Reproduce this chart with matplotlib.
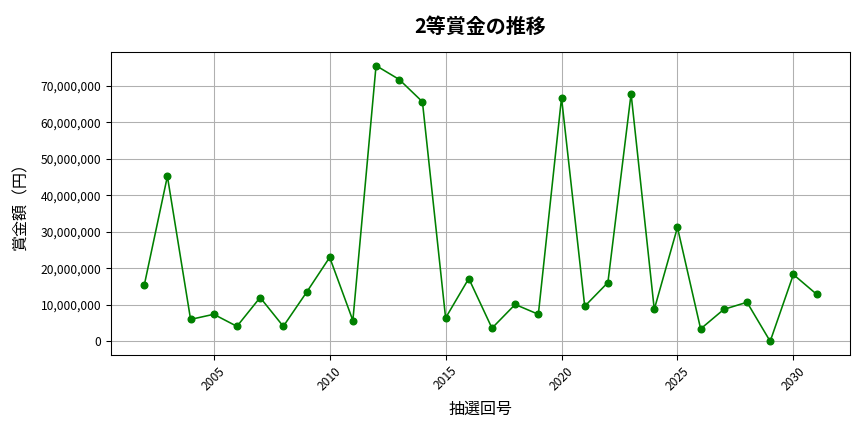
import matplotlib.pyplot as plt
import matplotlib.ticker as ticker

plt.rcParams['font.family'] = ['Noto Sans CJK JP', 'DejaVu Sans']

draw_no = list(range(2002, 2032))
prize = [15300000, 45200000, 6000000, 7400000, 4100000, 12000000, 4100000, 13400000,
         23000000, 5700000, 75500000, 71700000, 65600000, 6400000, 17200000, 3600000,
         10100000, 7400000, 66700000, 9600000, 16100000, 67800000, 8750000, 31200000,
         3400000, 8750000, 10700000, 0, 18300000, 12900000]

fig, ax = plt.subplots(figsize=(9, 4.5), dpi=96)
fig.subplots_adjust(left=0.128, right=0.984, top=0.88, bottom=0.178)

ax.plot(draw_no, prize, color='green', marker='o', markersize=5, linewidth=1.2)

ax.set_title('2等賞金の推移', fontsize=15, fontweight='bold', pad=14)
ax.set_xlabel('抽選回号', fontsize=12, labelpad=6)
ax.set_ylabel('賞金額（円）', fontsize=12, labelpad=8)
ax.yaxis.set_major_formatter(ticker.StrMethodFormatter('{x:,.0f}'))
ax.tick_params(axis='y', labelsize=9)
ax.tick_params(axis='x', labelsize=9, labelrotation=45)
ax.grid(True, color='#b0b0b0', linewidth=0.8)

plt.savefig('out.png')
